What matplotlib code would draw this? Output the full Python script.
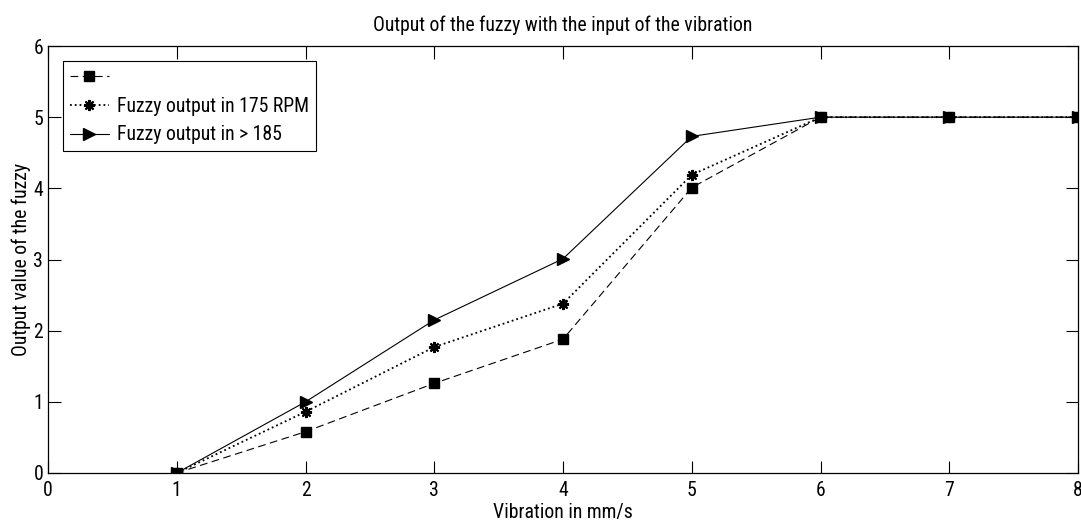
import numpy as np
import matplotlib.pyplot as plt
from matplotlib import font_manager

# 原图是窄而高的字体，有窄体就用，没有就退回普通体
names = {f.name for f in font_manager.fontManager.ttflist}
fs = 13.5
font_list = ['Liberation Sans', 'DejaVu Sans']
for name, size in [('Roboto Condensed', 14.2), ('Liberation Sans Narrow', 14.5),
                   ('Arial Narrow', 14.5)]:
    if name in names:
        font_list = [name, 'DejaVu Sans']
        fs = size
        break
plt.rcParams['font.family'] = font_list

# 数据
vibration = [1, 2, 3, 4, 5, 6, 7, 8]
out_low = [0, 0.58, 1.26, 1.88, 4.01, 5, 5, 5]
out_175 = [0, 0.86, 1.77, 2.38, 4.19, 5, 5, 5]
out_185 = [0, 1.0, 2.15, 3.01, 4.73, 5, 5, 5]
labels = [' ', 'Fuzzy output in 175 RPM', 'Fuzzy output in > 185']

fig = plt.figure(figsize=(10.81, 5.29), dpi=100)
ax = fig.add_axes([48 / 1081, 56 / 529, 1030 / 1081, 427 / 529])

ax.plot(vibration, out_low, color='k', linestyle='--', dashes=(7, 4),
        marker='s', markersize=7, linewidth=0.8, label=labels[0])
# MATLAB 风格的星号
ax.plot(vibration, out_175, color='k', linestyle=':', marker=(8, 2, 0),
        markersize=8, markeredgewidth=1.5, linewidth=1.3, label=labels[1])
ax.plot(vibration, out_185, color='k', linestyle='-', marker='>',
        markersize=8, linewidth=0.8, label=labels[2])

ax.set_xlim(0, 8)
ax.set_ylim(0, 6)
ax.set_xticks(range(0, 9))
ax.set_yticks(range(0, 7))
ax.tick_params(direction='in', top=True, right=True, length=9, width=0.8,
               labelsize=fs)
ax.tick_params(axis='x', pad=6)
ax.tick_params(axis='y', pad=3.5)
for axis in ['top', 'bottom', 'left', 'right']:
    ax.spines[axis].set_linewidth(0.9)

ax.set_title('Output of the fuzzy with the input of the vibration',
             fontsize=fs, pad=11)
ax.set_xlabel('Vibration in mm/s', fontsize=fs, labelpad=2)
ax.set_ylabel('Output value of the fuzzy', fontsize=fs, labelpad=2)

leg = ax.legend(loc='upper left', fontsize=fs, fancybox=False, edgecolor='k',
                framealpha=1, borderaxespad=0.75, borderpad=0.35,
                handlelength=2.0, handletextpad=0.4, labelspacing=0.5)
leg.get_frame().set_linewidth(0.8)

plt.savefig('out.png', dpi=100)
